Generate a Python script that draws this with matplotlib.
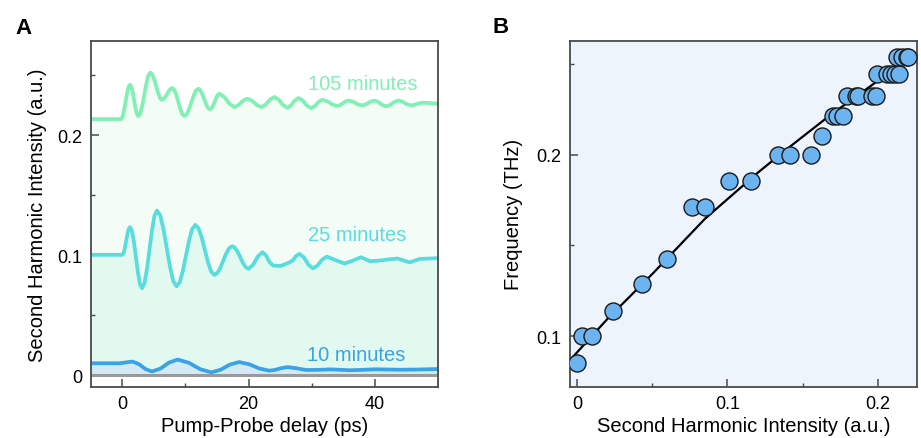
import matplotlib
matplotlib.use('Agg')
import matplotlib.pyplot as plt

plt.rcParams['font.family'] = ['Liberation Sans', 'DejaVu Sans']

# panel A: pump-probe traces (delay in ps, SH intensity in a.u.)
t_105 = [-5, -0.2, 0.04, 0.27, 0.75, 0.98, 1.22, 1.44, 1.66, 2.10, 2.32, 2.54, 2.86, 3.17,
         3.81, 4.12, 4.44, 4.75, 5.06, 5.67, 5.98, 6.29, 6.56, 6.83, 7.38, 7.65, 7.92,
         8.24, 8.56, 9.19, 9.51, 9.83, 10.20, 10.57, 11.30, 11.67, 12.04, 12.35, 12.66,
         13.28, 13.59, 13.9, 14.15, 14.39, 14.88, 15.12, 15.37, 16.16, 16.96, 17.75,
         18.43, 19.12, 19.8, 20.54, 21.29, 22.03, 22.72, 23.40, 24.09, 24.78, 25.46,
         26.15, 26.73, 27.32, 27.9, 28.57, 29.23, 29.9, 30.5, 31.1, 31.7, 32.49, 33.28,
         34.07, 34.65, 35.22, 35.8, 36.53, 37.27, 38.0, 38.63, 39.27, 39.9, 40.53, 41.17,
         41.8, 42.43, 43.07, 43.7, 44.38, 45.07, 45.75, 46.33, 46.92, 47.5, 48.33, 49.17, 50]
sh_105 = [0.2136, 0.2136, 0.2155, 0.2208, 0.2351, 0.2404, 0.2423, 0.2405, 0.2357, 0.2226,
          0.2178, 0.2160, 0.2184, 0.2251, 0.2432, 0.2499, 0.2523, 0.2508, 0.2467, 0.2354,
          0.2312, 0.2297, 0.2304, 0.2322, 0.2371, 0.2388, 0.2395, 0.2379, 0.2337, 0.2220,
          0.2177, 0.2161, 0.2176, 0.2218, 0.2332, 0.2374, 0.2389, 0.2378, 0.2346, 0.2260,
          0.2229, 0.2217, 0.2226, 0.2250, 0.2315, 0.2339, 0.2348, 0.2320, 0.2264, 0.2236,
          0.2254, 0.2289, 0.2306, 0.2289, 0.2254, 0.2236, 0.2257, 0.2299, 0.2320, 0.2298,
          0.2253, 0.2230, 0.2251, 0.2292, 0.2312, 0.2291, 0.2248, 0.2227, 0.2245, 0.2280,
          0.2297, 0.2284, 0.2258, 0.2245, 0.2257, 0.2280, 0.2291, 0.2281, 0.2260, 0.2250,
          0.2260, 0.2281, 0.2291, 0.2279, 0.2254, 0.2242, 0.2254, 0.2279, 0.2291, 0.2281,
          0.2260, 0.2250, 0.2256, 0.2267, 0.2272, 0.2271, 0.2267, 0.2266]

t_25 = [-5, 0.0, 0.20, 0.41, 0.81, 1.02, 1.22, 1.54, 1.85, 2.49, 2.80, 3.12, 3.52, 3.91,
        4.71, 5.10, 5.5, 6.02, 6.53, 7.57, 8.08, 8.6, 9.10, 9.59, 10.58, 11.07, 11.57,
        12.07, 12.57, 13.58, 14.08, 14.58, 15.05, 15.52, 16.46, 16.93, 17.4, 17.83, 18.27,
        19.13, 19.57, 20.0, 20.73, 21.47, 22.2, 22.77, 23.33, 23.9, 25.1, 26.5, 27.02,
        27.53, 28.05, 28.77, 29.48, 30.2, 30.93, 31.67, 32.4, 33.6, 35.2, 36.5, 37.8, 39.2,
        40.7, 42.2, 43.6, 45.5, 47.1, 48.5, 50]
sh_25 = [0.1003, 0.1003, 0.1018, 0.1061, 0.1176, 0.1219, 0.1234, 0.1200, 0.1107, 0.0852,
         0.0758, 0.0724, 0.0768, 0.0886, 0.1211, 0.1330, 0.1373, 0.1331, 0.1215, 0.0899,
         0.0783, 0.0741, 0.0775, 0.0869, 0.1125, 0.1219, 0.1253, 0.1225, 0.1149, 0.0940,
         0.0863, 0.0835, 0.0851, 0.0895, 0.1015, 0.1059, 0.1075, 0.1062, 0.1028, 0.0933,
         0.0899, 0.0886, 0.0921, 0.0990, 0.1025, 0.0997, 0.0941, 0.0913, 0.0910, 0.0941,
         0.0958, 0.0994, 0.1011, 0.0981, 0.0920, 0.0890, 0.0915, 0.0964, 0.0988, 0.0962,
         0.0930, 0.0955, 0.0983, 0.0950, 0.0955, 0.0965, 0.0972, 0.0940, 0.0969, 0.0972,
         0.0975]

t_10 = [-5, -0.5, 0.2, 0.9, 1.6, 2.63, 3.67, 4.7, 6.06, 7.41, 8.77, 10.55, 12.32, 14.1,
        15.57, 17.03, 18.5, 20.1, 21.7, 23.3, 24.27, 25.23, 26.2, 27.6, 29.1, 31, 33, 36,
        38, 40, 44, 47, 50]
sh_10 = [0.0098, 0.0098, 0.0102, 0.0108, 0.0112, 0.0091, 0.0050, 0.0029, 0.0054, 0.0104,
         0.0129, 0.0102, 0.0049, 0.0022, 0.0044, 0.0087, 0.0108, 0.0090, 0.0054, 0.0036,
         0.0044, 0.0058, 0.0066, 0.0056, 0.0042, 0.0043, 0.0047, 0.0040, 0.0043, 0.0048,
         0.0044, 0.0046, 0.0050]

t_ref = [-5, 50]
sh_ref = [0.0, 0.0]

# panel B: frequency vs SH intensity
sh_pts = [0.000, 0.0033, 0.010, 0.024, 0.0433, 0.0597, 0.0766, 0.085, 0.101, 0.1157,
          0.1338, 0.1416, 0.1554, 0.1631, 0.170, 0.1727, 0.1767, 0.1794, 0.1856, 0.1871,
          0.196, 0.1989, 0.1993, 0.206, 0.2089, 0.2115, 0.2144, 0.213, 0.216, 0.2193, 0.2204]
freq_pts = [0.0855, 0.100, 0.100, 0.1141, 0.1286, 0.1427, 0.1709, 0.1709, 0.1852, 0.1856,
            0.1995, 0.1995, 0.1995, 0.2104, 0.2214, 0.2214, 0.2214, 0.2324, 0.2324, 0.2324,
            0.2324, 0.2324, 0.2443, 0.2443, 0.2443, 0.2443, 0.2443, 0.2535, 0.2535, 0.2535,
            0.2535]
fit_x = [-0.003, 0.02, 0.05, 0.085, 0.12, 0.1383, 0.168, 0.2004, 0.226]
fit_y = [0.0887, 0.1096, 0.1344, 0.1647, 0.1899, 0.2022, 0.2214, 0.2407, 0.2544]

c105, c25, c10 = '#80f0b4', '#58dcde', '#3ba3e5'
spine_c = '#4a4a4a'

fig = plt.figure(figsize=(9.21, 4.39), dpi=100)
axA = fig.add_axes([0.0985, 0.1162, 0.3771, 0.7888])
axB = fig.add_axes([0.6189, 0.1162, 0.3764, 0.7888])

axA.fill_between(t_105, 0, sh_105, color='#f3fdf6', lw=0)
axA.fill_between(t_25, 0, sh_25, color='#e2f9ef', lw=0)
axA.fill_between(t_10, 0, sh_10, color='#d3e9f6', lw=0)
axA.plot(t_ref, sh_ref, color='#9a9a9a', lw=2.2)
for t, s, c in [(t_105, sh_105, c105), (t_25, sh_25, c25), (t_10, sh_10, c10)]:
    axA.plot(t, s, color=c, lw=2.7, solid_joinstyle='round', solid_capstyle='round')

axA.text(46.8, 0.2435, '105 minutes', color=c105, fontsize=14.5, ha='right', va='center')
axA.text(45.0, 0.1174, '25 minutes', color=c25, fontsize=14.5, ha='right', va='center')
axA.text(44.9, 0.0173, '10 minutes', color=c10, fontsize=14.5, ha='right', va='center')

axA.set_xlim(-5, 50)
axA.set_ylim(-0.010, 0.279)
axA.set_xticks([0, 20, 40])
axA.set_xticks([10, 30], minor=True)
axA.set_yticks([0, 0.1, 0.2])
axA.set_yticklabels(['0', '0.1', '0.2'])
axA.set_yticks([0.05, 0.15, 0.25], minor=True)
axA.set_xlabel('Pump-Probe delay (ps)', fontsize=14.5)
axA.set_ylabel('Second Harmonic Intensity (a.u.)', fontsize=14.5)
axA.xaxis.set_label_coords(0.5, -0.085)
axA.yaxis.set_label_coords(-0.126, 0.5)

axB.set_facecolor('#edf4fc')
axB.plot(fit_x, fit_y, color='black', lw=1.6, zorder=2)
axB.scatter(sh_pts, freq_pts, s=150, color='#6cb4f0', edgecolor='#1a1a1a', lw=1.0, zorder=3)
axB.set_xlim(-0.0049, 0.226)
axB.set_ylim(0.0722, 0.2626)
axB.set_xticks([0, 0.1, 0.2])
axB.set_xticklabels(['0', '0.1', '0.2'])
axB.set_xticks([0.05, 0.15], minor=True)
axB.set_yticks([0.1, 0.2])
axB.set_yticklabels(['0.1', '0.2'])
axB.set_yticks([0.15, 0.25], minor=True)
axB.set_xlabel('Second Harmonic Intensity (a.u.)', fontsize=14.5)
axB.set_ylabel('Frequency (THz)', fontsize=14.5)
axB.xaxis.set_label_coords(0.5, -0.085)
axB.yaxis.set_label_coords(-0.135, 0.5)

for ax in (axA, axB):
    for sp in ax.spines.values():
        sp.set_color(spine_c)
        sp.set_linewidth(1.3)
    ax.tick_params(which='both', direction='in', color=spine_c, labelsize=13, pad=6,
                   top=False, right=False)
    ax.tick_params(which='major', length=5.5, width=1.1)
    ax.tick_params(which='minor', length=3, width=1.0)

fig.text(15 / 921, 1 - 34 / 439, 'A', fontsize=16, fontweight='bold',
         family=['Liberation Sans Narrow', 'Liberation Sans'], va='baseline')
fig.text(492 / 921, 1 - 33 / 439, 'B', fontsize=16, fontweight='bold',
         family=['Liberation Sans Narrow', 'Liberation Sans'], va='baseline')

fig.savefig('out.png', dpi=100)
